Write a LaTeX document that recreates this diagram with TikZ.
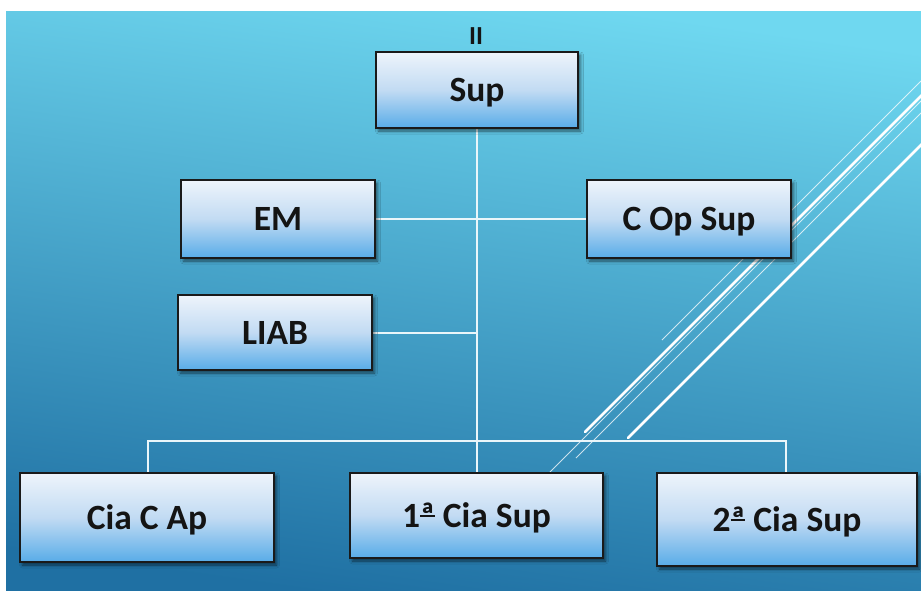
\documentclass[tikz,border=0pt]{standalone}
\usepackage{fontspec}
\setmainfont{Carlito}
\usetikzlibrary{shadows.blur}

\definecolor{bgtop}{HTML}{6FD8F0}
\definecolor{bgbottom}{HTML}{1F70A3}
\definecolor{boxtop}{HTML}{EEF4FB}
\definecolor{boxmid}{HTML}{C2DBF3}
\definecolor{boxbottom}{HTML}{58ACE8}
\definecolor{boxline}{HTML}{1A1A1A}
\definecolor{wire}{HTML}{EAF6FA}

% feminine ordinal indicator with its underline bar
\newcommand{\ordfem}{{\setbox0\hbox{ª}\rlap{\raisebox{0.30em}{\rule{\wd0}{0.055em}}}\box0}}

\tikzset{
  orgbox/.style={
    rectangle, draw=boxline, line width=1.4pt,
    top color=boxtop, bottom color=boxbottom, middle color=boxmid,
    inner sep=0pt, text=black!92, text depth=0pt,
    font=\fontsize{35.5}{42}\selectfont\bfseries,
    blur shadow={shadow xshift=2.5pt, shadow yshift=-3pt,
                 shadow blur radius=3pt, shadow opacity=55}
  },
  wireline/.style={draw=wire, line width=1.3pt},
  thickstreak/.style={draw=white, line width=2.6pt, line cap=round},
  thinstreak/.style={draw=white, line width=0.9pt, opacity=0.75}
}

\begin{document}
\begin{tikzpicture}[x=1pt, y=-1pt]
  % page and slide background
  \useasboundingbox (0,0) rectangle (921,590);
  \fill[white] (0,0) rectangle (921,590);
  \shade[top color=bgtop, bottom color=bgbottom, shading angle=-8]
    (6,11) rectangle (921,590);

  % decorative diagonal streaks
  \begin{scope}
    \clip (6,11) rectangle (921,590);
    \draw[thinstreak]  (662,340) -- (921,81);
    \draw[thickstreak] (585,432) -- (930,87);
    \draw[thinstreak]  (550,472) -- (921,101);
    \draw[thinstreak]  (576,458) -- (921,113);
    \draw[thickstreak] (628,438) -- (935,131);
  \end{scope}

  % heading
  \node[font=\fontsize{26}{30}\selectfont\bfseries, text=black!92] (title) at (476,36) {II};

  % connectors (drawn first so boxes sit on top)
  \coordinate (sspine) at (477,128);
  \coordinate (liaby) at (477,333);
  \coordinate (cia1top) at (477,473);
  \coordinate (leftdrop) at (148,441);
  \coordinate (rightdrop) at (786,441);
  \coordinate (leftend) at (148,473);
  \coordinate (rightend) at (786,473);
  \coordinate (emr) at (375,219);
  \coordinate (copl) at (587,219);
  \coordinate (liabr) at (372,333);

  \draw[wireline] (sspine) -- (cia1top);
  \draw[wireline] (emr) -- (copl);
  \draw[wireline] (liabr) -- (liaby);
  \draw[wireline] (leftend) -- (leftdrop) -- (rightdrop) -- (rightend);

  % boxes
  \node[orgbox, minimum width=202pt, minimum height=76pt] (sup)  at (477,90)    {Sup};
  \node[orgbox, minimum width=194pt, minimum height=78pt] (em)   at (278,219)   {EM};
  \node[orgbox, minimum width=204pt, minimum height=78pt] (cop)  at (689,219)   {C Op Sup};
  \node[orgbox, minimum width=194pt, minimum height=75pt] (liab) at (275,332.5) {LIAB};
  \node[orgbox, minimum width=254pt, minimum height=89pt] (ciac) at (147,517.5) {Cia C Ap};
  \node[orgbox, minimum width=253pt, minimum height=85pt] (cia1) at (476.5,515.5) {1\ordfem{} Cia Sup};
  \node[orgbox, minimum width=260pt, minimum height=93pt] (cia2) at (787,519.5) {2\ordfem{} Cia Sup};
\end{tikzpicture}
\end{document}
